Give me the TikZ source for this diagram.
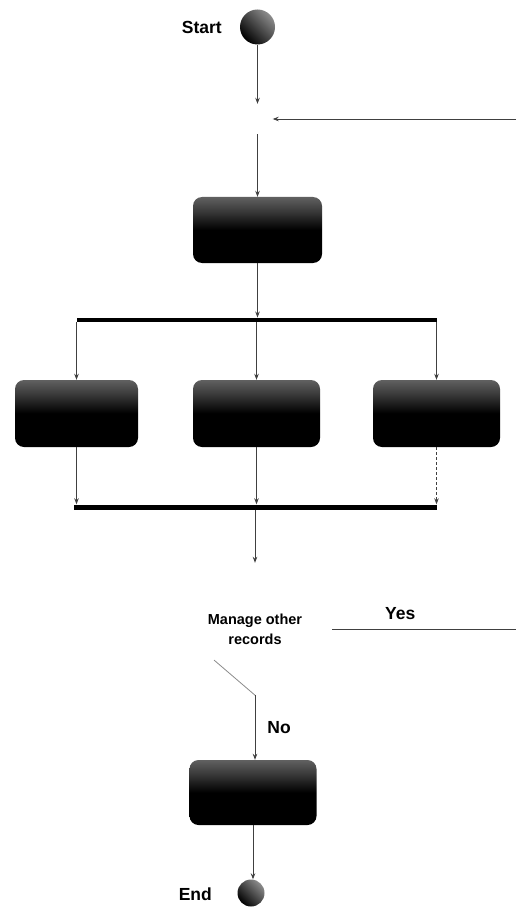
\documentclass[tikz,border=0pt]{standalone}
\usepackage{fontspec}
\setmainfont{Liberation Sans}
\usetikzlibrary{shapes.geometric,arrows.meta,calc}

\pgfdeclareverticalshading{actshade}{100bp}{%
  color(0bp)=(black); color(50bp)=(black); color(64bp)=(black!78);
  color(80bp)=(black!55); color(100bp)=(black!40)}

\tikzset{
  activity/.style={rectangle, rounded corners=9pt, shading=actshade,
    minimum width=128pt, minimum height=66pt, inner sep=0pt},
  terminal/.style={circle, inner sep=0pt, shading=axis,
    top color=black!45, bottom color=black, shading angle=-45},
  syncbar/.style={rectangle, fill=black, inner sep=0pt, minimum height=4.5pt},
  hidden/.style={diamond, inner sep=0pt, aspect=1},
  flow/.style={draw=black!75, line width=0.8pt,
    -{Stealth[length=6pt,width=4.5pt]}},
  plain/.style={draw=black!75, line width=0.9pt},
  lbl/.style={font=\bfseries\fontsize{17.5}{20}\selectfont, inner sep=0pt},
  decl/.style={font=\bfseries\fontsize{14.5}{20}\selectfont, align=center}
}

\begin{document}
\begin{tikzpicture}[x=1pt,y=-1pt]
  \useasboundingbox (0,0) rectangle (516,909);

  % start, loop-back merge and first activity
  \node[terminal, minimum size=35pt] (start) at (257.5,27) {};
  \node[lbl, anchor=east] (startlbl) at (222,27) {Start};
  \node[hidden, minimum width=30pt, minimum height=30pt] (merge) at (257.5,119) {};
  \coordinate (loopin) at (516,119);
  \node[activity, minimum width=129pt] (act1) at (257.5,230) {};

  % fork into three parallel activities
  \node[syncbar, minimum width=360pt] (fork) at (257,320) {};
  \node[activity, minimum width=123pt, minimum height=67pt] (act2) at (76.5,413.5) {};
  \node[activity, minimum width=127pt, minimum height=67pt] (act3) at (256.5,413.5) {};
  \node[activity, minimum width=127pt, minimum height=67pt] (act4) at (436.5,413.5) {};
  \node[syncbar, minimum width=363pt, minimum height=5pt] (join) at (255.5,507) {};

  % decision, final activity and end
  \node[hidden, decl, minimum width=154pt, minimum height=132pt] (dec) at (255,629)
    {Manage other\\records};
  \coordinate (yesout) at (516,629);
  \node[activity, minimum width=127pt, minimum height=65pt] (act5) at (253,792.5) {};
  \node[terminal, minimum size=27pt] (end) at (251,893) {};
  \node[lbl, anchor=east] (endlbl) at (212,894) {End};

  % connectors
  \draw[flow] (start) -- (merge.north);
  \draw[flow] (loopin) -- (merge.east);
  \draw[flow] (merge.south) -- (act1.north);
  \draw[flow] (act1.south) -- (fork.north -| act1.south);
  \draw[flow] (fork.south -| act2.north) -- (act2.north);
  \draw[flow] (fork.south -| act3.north) -- (act3.north);
  \draw[flow] (fork.south -| act4.north) -- (act4.north);
  \draw[flow] (act2.south) -- (act2.south |- join.north);
  \draw[flow] (act3.south) -- (act3.south |- join.north);
  \draw[flow, dash pattern=on 3pt off 2pt] (act4.south) -- (act4.south |- join.north);
  \draw[flow] (join.south -| dec.north) -- (dec.north);
  \draw[plain] (dec.east) -- node[lbl, pos=0.37, above=9pt] (yeslbl) {Yes} (yesout);
  \draw[black!45, line width=0.8pt] ($(dec.west)!0.47!(dec.south)$) -- (dec.south);
  \draw[flow] (dec.south) -- node[lbl, right=12pt] (nolbl) {No} (dec.south |- act5.north);
  \draw[flow] (act5.south) -- (act5.south |- end.north);
\end{tikzpicture}
\end{document}
